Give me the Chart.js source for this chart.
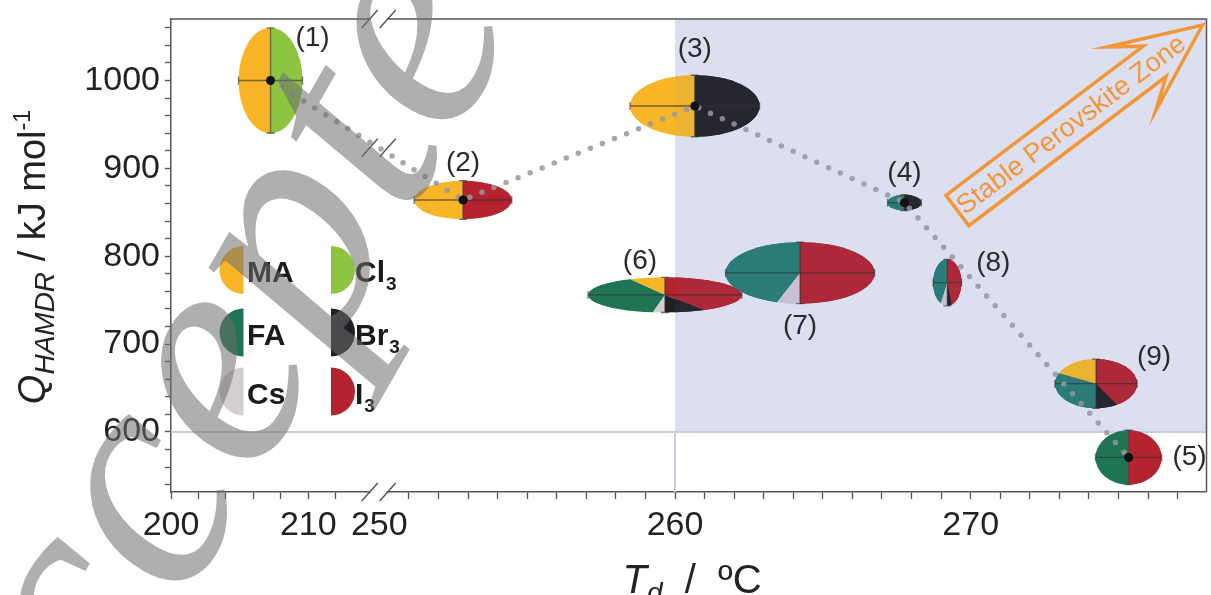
<!DOCTYPE html>
<html>
<head>
<meta charset="utf-8">
<script src="https://cdn.jsdelivr.net/npm/chart.js@4.4.1/dist/chart.umd.min.js"></script>
<style>
  html, body { margin: 0; padding: 0; background: #fff; }
</style>
</head>
<body>
<canvas id="grafico" width="1211" height="595"></canvas>
<script>
// data
const labels = ['(1)', '(2)', '(3)', '(4)', '(5)', '(6)', '(7)', '(8)', '(9)'];
const td     = [207.25, 252.83, 260.67, 267.76, 275.34, 259.66, 264.23, 269.21, 274.24];
const tdErr  = [2.33, 1.65, 2.19, 0.57, 1.12, 2.6, 2.52, 0.48, 1.39];
const q      = [1000, 864, 971, 861, 571, 756, 781, 770, 655];
const qErr   = [60, 22, 35, 9, 31, 20, 35, 26.5, 28];
// composition: cations (left half) and anions (right half)
const ma = [1, 1, 1, 0, 0, 0.15, 0, 0, 0.36];
const fa = [0, 0, 0, 1, 1, 0.80, 0.9, 0.85, 0.64];
const cs = [0, 0, 0, 0, 0, 0.05, 0.1, 0.15, 0];
const cl = [1, 0, 0, 0, 0, 0, 0, 0, 0];
const io = [0, 1, 0, 0, 1, 0.83, 1, 0.9, 0.83];
const br = [0, 0, 1, 1, 0, 0.17, 0, 0.1, 0.17];
const trend = [0, 1, 2, 3, 4];   // dotted line order

const xTickVals = [200, 202, 204, 206, 208, 210, 212,
                   250, 251, 252, 253, 254, 255, 256, 257, 258, 259, 260,
                   261, 262, 263, 264, 265, 266, 267, 268, 269, 270,
                   271, 272, 273, 274, 275, 276, 277];
const xLabelVals = [200, 210, 250, 260, 270];
const yTickVals = [540, 560, 580, 600, 620, 640, 660, 680, 700, 720, 740, 760, 780,
                   800, 820, 840, 860, 880, 900, 920, 940, 960, 980, 1000, 1020, 1040, 1060];
const yLabelVals = [600, 700, 800, 900, 1000];

const zoneT = 260, zoneQ = 600;
const arrowTail = [269.55, 852], arrowTip = [277.84, 1063];

const colors = {
    MA: '#f7b527', FA: '#1e7453', Cs: '#d4cdd2',
    Cl: '#8dc540', I: '#b4232e', Br: '#202025'
};
// same species seen through the blue zone
const zoneColors = {
    MA: '#ecb332', FA: '#2b7b78', Cs: '#c6c1d4',
    Cl: '#8dc540', I: '#ad2838', Br: '#25262f'
};

// broken axis: 200..214 compressed, then 250..278
const toU = (t) => t < 230 ? (t - 200) * 0.4643 : 7.045 + (t - 250);
const FONT = '"Liberation Sans", Arial, sans-serif';

function drawPie(ctx, cx, cy, rx, ry, cat, an, pal) {
    ctx.save();
    ctx.translate(cx, cy);
    ctx.scale(rx, ry);
    let a = -Math.PI / 2;
    const cc = [pal.MA, pal.FA, pal.Cs];
    cat.forEach((f, k) => {
        if (!f) return;
        const b = a - f * Math.PI;
        ctx.beginPath(); ctx.moveTo(0, 0); ctx.arc(0, 0, 1, a, b, true); ctx.closePath();
        ctx.fillStyle = cc[k]; ctx.fill();
        a = b;
    });
    a = -Math.PI / 2;
    const ac = [pal.Cl, pal.I, pal.Br];
    an.forEach((f, k) => {
        if (!f) return;
        const b = a + f * Math.PI;
        ctx.beginPath(); ctx.moveTo(0, 0); ctx.arc(0, 0, 1, a, b, false); ctx.closePath();
        ctx.fillStyle = ac[k]; ctx.fill();
        a = b;
    });
    ctx.restore();
}

function drawRuns(ctx, runs, x, y, rot, align) {
    ctx.save();
    ctx.translate(x, y);
    ctx.rotate(rot);
    let w = 0;
    runs.forEach(r => { ctx.font = r.font; w += ctx.measureText(r.t).width; });
    let pos = align === 'center' ? -w / 2 : (align === 'right' ? -w : 0);
    ctx.textBaseline = 'alphabetic';
    ctx.textAlign = 'left';
    runs.forEach(r => {
        ctx.font = r.font;
        ctx.fillText(r.t, pos, r.dy || 0);
        pos += ctx.measureText(r.t).width;
    });
    ctx.restore();
}

function slashes(ctx, xc, yc) {
    ctx.save();
    ctx.fillStyle = '#fff';
    ctx.fillRect(xc - 8, yc - 3, 16, 6);
    ctx.strokeStyle = '#555';
    ctx.lineWidth = 1.4;
    ctx.beginPath();
    [-9, 9].forEach(d => {
        ctx.moveTo(xc + d - 8, yc + 9);
        ctx.lineTo(xc + d + 8, yc - 9);
    });
    ctx.stroke();
    ctx.restore();
}

const piePlugin = {
    id: 'pies',
    beforeDatasetsDraw(chart) {
        const { ctx, chartArea: a, scales: { x, y } } = chart;
        const pts = chart.getDatasetMeta(1).data;
        ctx.save();
        ctx.beginPath(); ctx.rect(a.left, a.top, a.width, a.height); ctx.clip();
        // stable zone shading
        const zx = x.getPixelForValue(toU(zoneT));
        const zy = y.getPixelForValue(zoneQ);
        ctx.fillStyle = '#dcdff0';
        ctx.fillRect(zx, a.top, a.right - zx, zy - a.top);
        ctx.strokeStyle = '#c8cde2';
        ctx.lineWidth = 2;
        ctx.beginPath();
        ctx.moveTo(a.left, zy); ctx.lineTo(a.right, zy);
        ctx.moveTo(zx, zy); ctx.lineTo(zx, a.bottom);
        ctx.stroke();

        pts.forEach((p, i) => {
            const rx = Math.abs(x.getPixelForValue(toU(td[i] + tdErr[i])) - p.x);
            const ry = Math.abs(y.getPixelForValue(q[i] + qErr[i]) - p.y);
            const cat = [ma[i], fa[i], cs[i]], an = [cl[i], io[i], br[i]];
            drawPie(ctx, p.x, p.y, rx, ry, cat, an, colors);
            // the part inside the blue zone looks tinted
            ctx.save();
            ctx.beginPath(); ctx.rect(zx, a.top, a.right - zx, zy - a.top); ctx.clip();
            drawPie(ctx, p.x, p.y, rx, ry, cat, an, zoneColors);
            ctx.restore();
            // error bars
            ctx.strokeStyle = 'rgba(50,50,50,0.65)';
            ctx.lineWidth = 1.3;
            ctx.beginPath();
            ctx.moveTo(p.x - rx, p.y); ctx.lineTo(p.x + rx, p.y);
            ctx.moveTo(p.x - rx, p.y - 4); ctx.lineTo(p.x - rx, p.y + 4);
            ctx.moveTo(p.x + rx, p.y - 4); ctx.lineTo(p.x + rx, p.y + 4);
            ctx.moveTo(p.x, p.y - ry); ctx.lineTo(p.x, p.y + ry);
            ctx.moveTo(p.x - 4, p.y - ry); ctx.lineTo(p.x + 4, p.y - ry);
            ctx.moveTo(p.x - 4, p.y + ry); ctx.lineTo(p.x + 4, p.y + ry);
            ctx.stroke();
        });
        ctx.restore();
    },
    afterDatasetsDraw(chart) {
        const { ctx, chartArea: a, scales: { x, y } } = chart;
        const pts = chart.getDatasetMeta(1).data;
        const off = [[42, -42], [0, -37], [0, -57], [0, -29], [61, 0],
                     [-25, -34], [0, 53], [46, -19], [58, -26]];
        ctx.save();
        ctx.fillStyle = '#2a2a2a';
        ctx.font = '28px ' + FONT;
        ctx.textAlign = 'center';
        ctx.textBaseline = 'middle';
        pts.forEach((p, i) => ctx.fillText(labels[i], p.x + off[i][0], p.y + off[i][1]));

        // legend of half discs
        const lg = [
            ['MA', colors.MA, -1, 0], ['FA', colors.FA, -1, 1], ['Cs', colors.Cs, -1, 2],
            ['Cl', colors.Cl, 1, 0], ['Br', colors.Br, 1, 1], ['I', colors.I, 1, 2]
        ];
        const rows = [270, 332.5, 391.5];
        lg.forEach(([t, c, side, r]) => {
            const ex = side < 0 ? 243.5 : 331;
            const cy = rows[r];
            ctx.beginPath();
            if (side < 0) ctx.arc(ex, cy, 24, Math.PI / 2, Math.PI * 1.5, false);
            else ctx.arc(ex, cy, 24, -Math.PI / 2, Math.PI / 2, false);
            ctx.closePath();
            ctx.fillStyle = c; ctx.fill();
            ctx.fillStyle = '#1a1a1a';
            ctx.textAlign = 'left';
            ctx.textBaseline = 'alphabetic';
            ctx.font = 'bold 30px ' + FONT;
            const tx = side < 0 ? 247 : 355;
            ctx.fillText(t, tx, cy + 12);
            if (side > 0) {
                const w = ctx.measureText(t).width;
                ctx.font = 'bold 19px ' + FONT;
                ctx.fillText('3', tx + w + 1, cy + 20);
            }
        });

        // frame: top and right borders, axis breaks
        ctx.strokeStyle = '#555';
        ctx.lineWidth = 1.5;
        ctx.beginPath();
        ctx.moveTo(a.left, a.top); ctx.lineTo(a.right, a.top); ctx.lineTo(a.right, a.bottom);
        ctx.stroke();
        const bx = x.getPixelForValue(toU(250)) - 0.6;
        slashes(ctx, bx, a.top);
        slashes(ctx, bx, a.bottom);
        const p0 = pts[trend[0]], p1 = pts[trend[1]];
        const by = p0.y + (p1.y - p0.y) * (bx - p0.x) / (p1.x - p0.x);
        ctx.save();
        ctx.strokeStyle = '#555'; ctx.lineWidth = 1.4;
        ctx.beginPath();
        [-9, 9].forEach(d => { ctx.moveTo(bx + d - 8, by + 9); ctx.lineTo(bx + d + 8, by - 9); });
        ctx.stroke();
        ctx.restore();

        // arrow annotation
        const tx0 = x.getPixelForValue(toU(arrowTail[0])), ty0 = y.getPixelForValue(arrowTail[1]);
        const tx1 = x.getPixelForValue(toU(arrowTip[0])), ty1 = y.getPixelForValue(arrowTip[1]);
        const L = Math.hypot(tx1 - tx0, ty1 - ty0);
        ctx.save();
        ctx.translate(tx0, ty0);
        ctx.rotate(Math.atan2(ty1 - ty0, tx1 - tx0));
        ctx.strokeStyle = '#f39638';
        ctx.lineWidth = 3.5;
        ctx.lineJoin = 'miter';
        ctx.beginPath();
        ctx.moveTo(0, -19); ctx.lineTo(L - 60, -19); ctx.lineTo(L - 89, -40); ctx.lineTo(L, 0);
        ctx.lineTo(L - 89, 40); ctx.lineTo(L - 60, 19); ctx.lineTo(0, 19); ctx.closePath();
        ctx.stroke();
        ctx.fillStyle = '#f39638';
        ctx.font = '27px ' + FONT;
        ctx.textAlign = 'left';
        ctx.textBaseline = 'middle';
        ctx.fillText('Stable Perovskite Zone', 3, 1);
        ctx.restore();

        // axis titles
        ctx.fillStyle = '#222';
        drawRuns(ctx, [
            { t: 'Q', font: 'italic 38px ' + FONT },
            { t: 'HAMDR', font: 'italic 28px ' + FONT, dy: 9 },
            { t: ' / kJ mol', font: '38px ' + FONT },
            { t: '-1', font: '23px ' + FONT, dy: -15 }
        ], 45, 110, -Math.PI / 2, 'right');
        drawRuns(ctx, [
            { t: 'T', font: 'italic 40px ' + FONT },
            { t: 'd', font: 'italic 28px ' + FONT, dy: 9 },
            { t: '  /  ºC', font: '40px ' + FONT }
        ], 692, 593, 0, 'center');
        ctx.restore();
    },
    afterDraw(chart) {
        // "Accepted" watermark stamped over the figure
        const { ctx } = chart;
        ctx.save();
        ctx.translate(14.5, 897.7);
        ctx.rotate(-60 * Math.PI / 180);
        ctx.font = 'italic 320px "Liberation Serif", serif';
        ctx.fillStyle = 'rgba(110,110,110,0.55)';
        ctx.fillText('Accepted', 0, 0);
        ctx.restore();
    }
};

const ctx = document.getElementById('grafico');
new Chart(ctx, {
    data: {
        datasets: [{
            type: 'line',
            label: 'trend',
            data: trend.map(i => ({ x: toU(td[i]), y: q[i] })),
            borderColor: 'rgba(150,150,160,0.85)',
            borderWidth: 5.5,
            borderDash: [0, 13],
            borderCapStyle: 'round',
            pointRadius: 4.5,
            pointBackgroundColor: '#111',
            pointBorderWidth: 0,
            tension: 0
        }, {
            type: 'scatter',
            label: 'samples',
            data: td.map((t, i) => ({ x: toU(t), y: q[i] })),
            pointRadius: 0
        }]
    },
    options: {
        responsive: false,
        animation: false,
        layout: { padding: { top: 19, right: 2, left: 0, bottom: 0 } },
        plugins: { legend: { display: false }, tooltip: { enabled: false } },
        scales: {
            x: {
                type: 'linear',
                min: 0,
                max: 35.02,
                afterBuildTicks: (s) => { s.ticks = xTickVals.map(v => ({ value: toU(v) })); },
                afterFit: (s) => { s.height = 103; s.paddingLeft = 0; s.paddingRight = 0; },
                ticks: {
                    autoSkip: false,
                    maxRotation: 0,
                    padding: 6,
                    color: '#222',
                    font: { family: FONT, size: 34 },
                    callback: (v, i) => xLabelVals.includes(xTickVals[i]) ? String(xTickVals[i]) : ''
                },
                grid: {
                    drawOnChartArea: false,
                    tickLength: 7,
                    tickWidth: 1.3,
                    tickColor: (c) => xTickVals[c.index] === 250 ? 'rgba(0,0,0,0)' : '#555'
                },
                border: { color: '#555', width: 1.5 }
            },
            y: {
                type: 'linear',
                min: 531.7,
                max: 1070,
                afterBuildTicks: (s) => { s.ticks = yTickVals.map(v => ({ value: v })); },
                afterFit: (s) => { s.width = 171; s.paddingTop = 0; s.paddingBottom = 0; },
                ticks: {
                    autoSkip: false,
                    padding: 5,
                    color: '#222',
                    font: { family: FONT, size: 34 },
                    callback: (v) => yLabelVals.includes(v) ? String(v) : ''
                },
                grid: { drawOnChartArea: false, tickLength: 6, tickWidth: 1.3, tickColor: '#555' },
                border: { color: '#555', width: 1.5 }
            }
        }
    },
    plugins: [piePlugin]
});
</script>
</body>
</html>
